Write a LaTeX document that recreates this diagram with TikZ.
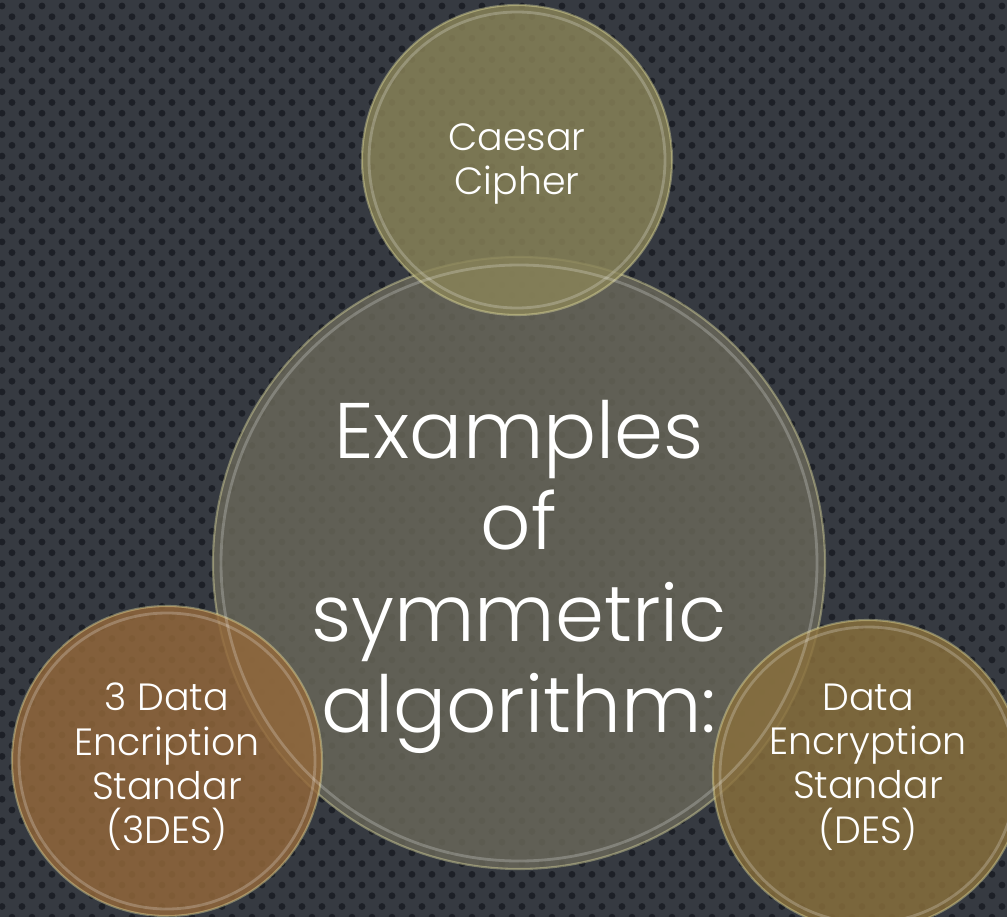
\documentclass[tikz,border=0pt]{standalone}
\usepackage{fontspec}
\setmainfont{Poppins}[UprightFont=* Light]
\definecolor{bgcol}{HTML}{363A41}
\definecolor{dotcol}{HTML}{1D2027}
\definecolor{bigcol}{HTML}{6A685A}
\definecolor{topcol}{HTML}{8A8458}
\definecolor{leftcol}{HTML}{94683A}
\definecolor{rightcol}{HTML}{8A703C}
\tikzset{
  bubble/.style={circle,draw=white!70!yellow,draw opacity=0.35,line width=1.5pt,
    fill opacity=0.82,text opacity=1,text=white,align=center,inner sep=0pt},
  rim/.style={draw=white,opacity=0.22,line width=2pt},
  bigtext/.style={font=\fontsize{56}{65}\selectfont},
  smalltext/.style={font=\fontsize{27}{31.5}\selectfont}
}
\begin{document}
\begin{tikzpicture}
	\useasboundingbox (0,0) rectangle (25.175,-22.925);
	\fill[bgcol] (0,0) rectangle (25.175,-22.925);
	% dotted backdrop
	\begin{scope}
		\clip (0,0) rectangle (25.175,-22.925);
		\foreach \r in {0,...,86} {
			\foreach \c in {0,...,51} {
				\pgfmathsetmacro{\xo}{mod(\r,2)*0.25}
				\fill[dotcol] (\c*0.5+\xo+0.05,-\r*0.268-0.15) circle (0.085);
			}
		}
	\end{scope}

	\node[bubble,fill=bigcol,minimum size=15.3cm] (big) at (12.975,-14.075) {};
	\node[bubble,fill=topcol,minimum size=7.75cm] (caesar) at (12.925,-4.0) {};
	\node[bubble,fill=leftcol,minimum size=7.75cm] (tdes) at (4.175,-19.025) {};
	\node[bubble,fill=rightcol,minimum size=7.75cm] (des) at (21.7,-19.375) {};

	\draw[rim] (big.center) circle (7.45);
	\draw[rim] (caesar.center) circle (3.7);
	\draw[rim] (tdes.center) circle (3.7);
	\draw[rim] (des.center) circle (3.7);

	\node[bigtext,text=white,align=center] (bigtxt) at ([yshift=-0.35cm]big.center) {Examples\\of\\symmetric\\algorithm:};
	\node[smalltext,text=white,align=center] (caesartxt) at ([yshift=-0.1cm]caesar.center) {Caesar\\Cipher};
	\node[smalltext,text=white,align=center] (tdestxt) at ([yshift=-0.15cm]tdes.center) {3 Data\\Encription\\Standar\\(3DES)};
	\node[smalltext,text=white,align=center] (destxt) at ([yshift=0.2cm]des.center) {Data\\Encryption\\Standar\\(DES)};
\end{tikzpicture}
\end{document}
